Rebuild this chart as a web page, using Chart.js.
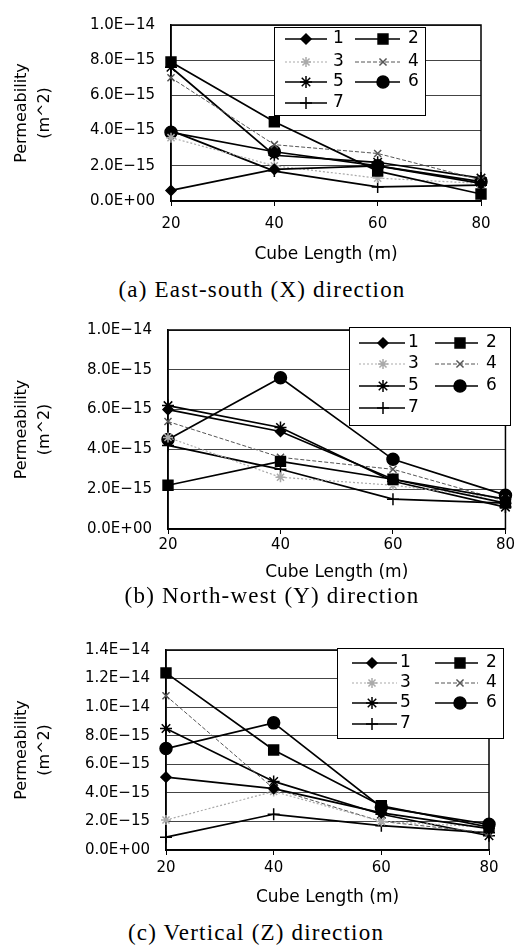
<!DOCTYPE html>
<html>
<head>
<meta charset="utf-8">
<title>Permeability vs cube length</title>
<script src="https://cdn.jsdelivr.net/npm/chart.js@4.4.0/dist/chart.umd.min.js"></script>
<style>
    body { margin: 0; background: #fff; width: 517px; height: 949px; position: relative; overflow: hidden; }
    .panel { position: absolute; left: 0; width: 517px; }
    .caption {
        position: absolute;
        font-family: 'Liberation Serif', serif;
        font-size: 23px;
        letter-spacing: 1.2px;
        white-space: nowrap;
        transform: translate(-50%, -50%);
        color: #000;
    }
</style>
</head>
<body>
<div class="panel" style="top:0;height:272px"><canvas id="chart-x"></canvas></div>
<div class="caption" style="left:262px;top:290px">(a) East-south (X) direction</div>
<div class="panel" style="top:305px;height:280px"><canvas id="chart-y"></canvas></div>
<div class="caption" style="left:272px;top:596px">(b) North-west (Y) direction</div>
<div class="panel" style="top:625px;height:290px"><canvas id="chart-z"></canvas></div>
<div class="caption" style="left:256px;top:933px">(c) Vertical (Z) direction</div>

<script>
// Cube lengths (m) on the x axis
const cubeLengths = ['20', '40', '60', '80'];
const seriesLabels = ['1', '2', '3', '4', '5', '6', '7'];

// Permeability (m^2), one row per series 1..7
const eastSouthX = [
    [0.6e-15, 1.8e-15, 2.0e-15, 1.0e-15],
    [7.9e-15, 4.5e-15, 1.7e-15, 0.4e-15],
    [3.6e-15, 2.0e-15, 1.3e-15, 1.0e-15],
    [7.0e-15, 3.2e-15, 2.7e-15, 1.2e-15],
    [7.6e-15, 2.6e-15, 2.2e-15, 1.3e-15],
    [3.9e-15, 2.8e-15, 2.0e-15, 1.1e-15],
    [4.0e-15, 1.7e-15, 0.8e-15, 0.9e-15]
];
const northWestY = [
    [6.0e-15, 4.9e-15, 2.5e-15, 1.5e-15],
    [2.2e-15, 3.4e-15, 2.5e-15, 1.3e-15],
    [4.6e-15, 2.6e-15, 2.2e-15, 1.5e-15],
    [5.4e-15, 3.6e-15, 3.0e-15, 1.4e-15],
    [6.2e-15, 5.1e-15, 2.4e-15, 1.1e-15],
    [4.5e-15, 7.6e-15, 3.5e-15, 1.7e-15],
    [4.2e-15, 3.0e-15, 1.5e-15, 1.3e-15]
];
const verticalZ = [
    [5.1e-15, 4.3e-15, 2.6e-15, 1.5e-15],
    [12.4e-15, 7.0e-15, 3.1e-15, 1.6e-15],
    [2.1e-15, 4.1e-15, 2.0e-15, 1.6e-15],
    [10.8e-15, 4.3e-15, 2.0e-15, 1.2e-15],
    [8.5e-15, 4.8e-15, 2.5e-15, 1.0e-15],
    [7.1e-15, 8.9e-15, 3.0e-15, 1.8e-15],
    [0.9e-15, 2.5e-15, 1.7e-15, 1.2e-15]
];

// Y axis ranges
const yMaxX = 1.0e-14, yMaxY = 1.0e-14, yMaxZ = 1.4e-14;
const yStep = 2e-15;

// Line / marker styles per series
const seriesStyles = [
    { color: '#000', width: 1.7, dash: [], point: 'rectRot', radius: 5, fill: '#000' },
    { color: '#000', width: 1.7, dash: [], point: 'rect', radius: 7, fill: '#000' },
    { color: '#aaa', width: 1.2, dash: [2, 2], point: 'star', radius: 5, fill: '#aaa' },
    { color: '#555', width: 1, dash: [4, 2], point: 'crossRot', radius: 5, fill: '#555' },
    { color: '#000', width: 1.7, dash: [], point: 'star', radius: 6, fill: '#000' },
    { color: '#000', width: 1.7, dash: [], point: 'circle', radius: 6, fill: '#000' },
    { color: '#000', width: 1.7, dash: [], point: 'cross', radius: 6, fill: '#000' }
];

const axisFont = 'DejaVu Sans';

// 1.0E-14 style tick labels
function formatTick(value) {
    if (Math.abs(value) < 1e-20) return '0.0E+00';
    const parts = value.toExponential(1).split('e');
    const exp = parts[1];
    const sign = exp[0] === '-' ? '\u2212' : '+';
    return parts[0] + 'E' + sign + exp.slice(1).padStart(2, '0');
}

// Frame round the plot area, plus the boxed two-column legend
const frameAndLegend = {
    id: 'frameAndLegend',
    beforeDatasetsDraw(chart) {
        const { ctx, chartArea: a } = chart;
        ctx.save();
        ctx.strokeStyle = '#000';
        ctx.lineWidth = 1.5;
        ctx.strokeRect(a.left, a.top, a.right - a.left, a.bottom - a.top);
        ctx.restore();
    },
    afterDatasetsDraw(chart, args, opts) {
        const { ctx } = chart;
        const b = opts.box;
        ctx.save();
        ctx.fillStyle = '#fff';
        ctx.fillRect(b.x, b.y, b.w, b.h);
        ctx.strokeStyle = '#000';
        ctx.lineWidth = 1;
        ctx.strokeRect(b.x + 0.5, b.y + 0.5, b.w, b.h);
        chart.data.datasets.forEach((ds, i) => {
            const col = i % 2 === 0 ? opts.col1 : opts.col2;
            const y = opts.rows[Math.floor(i / 2)];
            ctx.strokeStyle = ds.borderColor;
            ctx.lineWidth = ds.borderWidth;
            ctx.setLineDash(ds.borderDash || []);
            ctx.beginPath();
            ctx.moveTo(col.x0, y);
            ctx.lineTo(col.x1, y);
            ctx.stroke();
            ctx.setLineDash([]);
            ctx.fillStyle = ds.pointBackgroundColor;
            ctx.strokeStyle = ds.pointBorderColor;
            ctx.lineWidth = ds.pointBorderWidth;
            Chart.helpers.drawPoint(ctx, {
                pointStyle: ds.pointStyle, radius: ds.pointRadius,
                borderWidth: ds.pointBorderWidth, rotation: 0
            }, col.mx, y);
            ctx.fillStyle = '#000';
            ctx.font = '17px "' + axisFont + '"';
            ctx.textBaseline = 'middle';
            ctx.textAlign = 'left';
            ctx.fillText(ds.label, col.tx, y);
        });
        ctx.restore();
    }
};

function buildDatasets(rows) {
    return rows.map((values, i) => {
        const s = seriesStyles[i];
        return {
            label: seriesLabels[i],
            data: values,
            borderColor: s.color,
            borderWidth: s.width,
            borderDash: s.dash,
            pointStyle: s.point,
            pointRadius: s.radius,
            pointBackgroundColor: s.fill,
            pointBorderColor: s.color,
            pointBorderWidth: 1.5,
            tension: 0
        };
    });
}

// layout: plot area inside the canvas, label/title centres, legend geometry
function makeChart(canvasId, rows, yMax, layout) {
    const H = layout.height;
    const tickLh = 15 * 1.2;
    const titleLh = 17 * 1.2;
    return new Chart(document.getElementById(canvasId), {
        type: 'line',
        data: { labels: cubeLengths, datasets: buildDatasets(rows) },
        plugins: [frameAndLegend],
        options: {
            responsive: true,
            maintainAspectRatio: false,
            animation: false,
            layout: { padding: { left: 0, right: 517 - layout.right, top: layout.top, bottom: 0 } },
            plugins: {
                legend: { display: false },
                tooltip: { enabled: false },
                frameAndLegend: layout.legend
            },
            scales: {
                x: {
                    type: 'category',
                    offset: false,
                    grid: { drawOnChartArea: false, drawTicks: true, tickLength: 5, color: '#000' },
                    border: { display: true, color: '#000', width: 1.5 },
                    ticks: {
                        color: '#000', font: { family: axisFont, size: 15 },
                        padding: layout.tickY - layout.bottom - 5 - tickLh / 2,
                        maxRotation: 0
                    },
                    title: {
                        display: true, text: 'Cube Length (m)', color: '#000',
                        font: { family: axisFont, size: 17 },
                        padding: { top: 0, bottom: H - layout.titleY - titleLh / 2 }
                    },
                    afterFit: scale => { scale.width = scale.width; scale.height = H - layout.bottom; }
                },
                y: {
                    min: 0,
                    max: yMax,
                    grid: { color: '#444', lineWidth: 1, drawTicks: false },
                    border: { display: true, color: '#000', width: 1.5 },
                    ticks: {
                        stepSize: yStep, color: '#000', padding: 16,
                        font: { family: axisFont, size: 15 },
                        callback: formatTick
                    },
                    title: {
                        display: true, text: ['Permeability', '(m^2)'], color: '#000',
                        font: { family: axisFont, size: 16, lineHeight: 1.45 },
                        padding: { top: 10, bottom: 0 }
                    },
                    afterFit: scale => { scale.width = layout.left; }
                }
            }
        }
    });
}

makeChart('chart-x', eastSouthX, yMaxX, {
    height: 272, left: 171, right: 481, top: 15, bottom: 201, tickY: 224, titleY: 255,
    legend: {
        box: { x: 274, y: 27, w: 151, h: 88 },
        rows: [39, 62, 82, 103],
        col1: { x0: 285, x1: 327, mx: 306, tx: 333 },
        col2: { x0: 355, x1: 400, mx: 383, tx: 408 }
    }
});

makeChart('chart-y', northWestY, yMaxY, {
    height: 280, left: 168, right: 507, top: 24, bottom: 224, tickY: 240, titleY: 268,
    legend: {
        box: { x: 349, y: 22, w: 161, h: 98 },
        rows: [38, 59, 81, 103],
        col1: { x0: 359, x1: 405, mx: 383, tx: 408 },
        col2: { x0: 435, x1: 478, mx: 460, tx: 486 }
    }
});

makeChart('chart-z', verticalZ, yMaxZ, {
    height: 290, left: 166, right: 489, top: 16, bottom: 225, tickY: 243, titleY: 273,
    legend: {
        box: { x: 337, y: 23, w: 166, h: 90 },
        rows: [38, 58, 78, 99],
        col1: { x0: 352, x1: 397, mx: 372, tx: 400 },
        col2: { x0: 435, x1: 478, mx: 460, tx: 486 }
    }
});
</script>
</body>
</html>
